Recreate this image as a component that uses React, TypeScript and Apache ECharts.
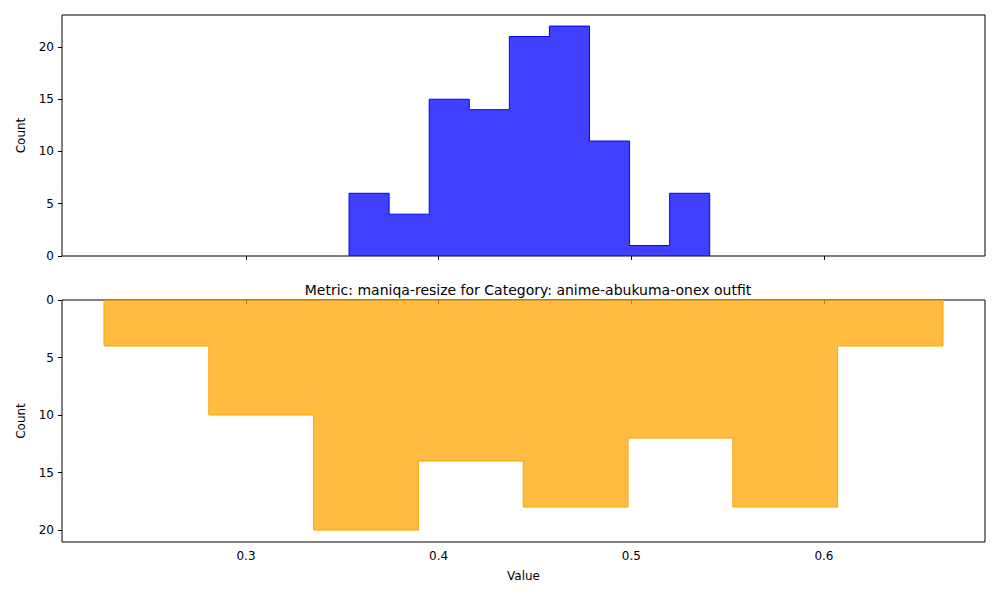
import React, { useEffect, useRef } from "react";
import * as echarts from "echarts";

const topEdges = [0.3535, 0.3743, 0.3951, 0.4159, 0.4367, 0.4575, 0.4783, 0.4991, 0.5199, 0.5407];
const topCounts = [6, 4, 15, 14, 21, 22, 11, 1, 6];
const botEdges = [0.2263, 0.2807, 0.3351, 0.3895, 0.4439, 0.4983, 0.5527, 0.6071, 0.6618];
const botCounts = [4, 10, 20, 14, 18, 12, 18, 4];
const xTicks = [0.3, 0.4, 0.5, 0.6];
const yTicks = [0, 5, 10, 15, 20];
const title = "Metric: maniqa-resize for Category: anime-abukuma-onex outfit";

function stepData(edges: number[], counts: number[]) {
  const d: number[][] = [[edges[0], 0]];
  counts.forEach((c, i) => d.push([edges[i], c]));
  d.push([edges[edges.length - 1], counts[counts.length - 1]]);
  d.push([edges[edges.length - 1], 0]);
  return d;
}

export default function App() {
  const ref = useRef<HTMLDivElement>(null);
  useEffect(() => {
    const chart = echarts.init(ref.current!, null, { renderer: "svg" });
    const font = "DejaVu Sans";
    const xAxisBase = (idx: number, labels: boolean) => ({
      type: "value", gridIndex: idx, min: 0.2045, max: 0.6836,
      splitLine: { show: false },
      axisLine: { show: false },
      axisTick: { show: true, customValues: xTicks, length: 4, lineStyle: { color: "#000" } },
      axisLabel: { show: labels, customValues: xTicks, color: "#000", fontFamily: font, fontSize: 12, margin: 8 },
      name: labels ? "Value" : "", nameLocation: "middle", nameGap: 28,
      nameTextStyle: { color: "#000", fontFamily: font, fontSize: 12 },
    });
    const yAxisBase = (idx: number, max: number, inverse: boolean) => ({
      type: "value", gridIndex: idx, min: 0, max, inverse,
      splitLine: { show: false },
      axisLine: { show: false },
      axisTick: { show: true, customValues: yTicks, length: 4, lineStyle: { color: "#000" } },
      axisLabel: { customValues: yTicks, color: "#000", fontFamily: font, fontSize: 12, margin: 8 },
      name: "Count", nameLocation: "middle", nameGap: 35,
      nameTextStyle: { color: "#000", fontFamily: font, fontSize: 12 },
    });
    chart.setOption({
      animation: false,
      title: { text: title, left: 523, top: 278, textAlign: "center",
        textStyle: { fontFamily: font, fontSize: 14, fontWeight: "normal", color: "#000" } },
      grid: [
        { left: 62, top: 15, width: 923, height: 241, show: true, borderColor: "#000", borderWidth: 1 },
        { left: 62, top: 300, width: 923, height: 242, show: true, borderColor: "#000", borderWidth: 1 },
      ],
      xAxis: [xAxisBase(0, false), xAxisBase(1, true)],
      yAxis: [yAxisBase(0, 23.06, false), yAxisBase(1, 21.04, true)],
      series: [
        { type: "line", xAxisIndex: 0, yAxisIndex: 0, step: "end", symbol: "none",
          data: stepData(topEdges, topCounts),
          lineStyle: { color: "#0000ff", width: 1 }, areaStyle: { color: "rgba(0,0,255,0.75)", opacity: 1 } },
        { type: "line", xAxisIndex: 1, yAxisIndex: 1, step: "end", symbol: "none",
          data: stepData(botEdges, botCounts),
          lineStyle: { color: "#ffa500", width: 1 }, areaStyle: { color: "rgba(255,165,0,0.75)", opacity: 1 } },
      ],
    });
    return () => chart.dispose();
  }, []);
  return <div ref={ref} style={{ width: 1000, height: 600, margin: -8 }} />;
}
